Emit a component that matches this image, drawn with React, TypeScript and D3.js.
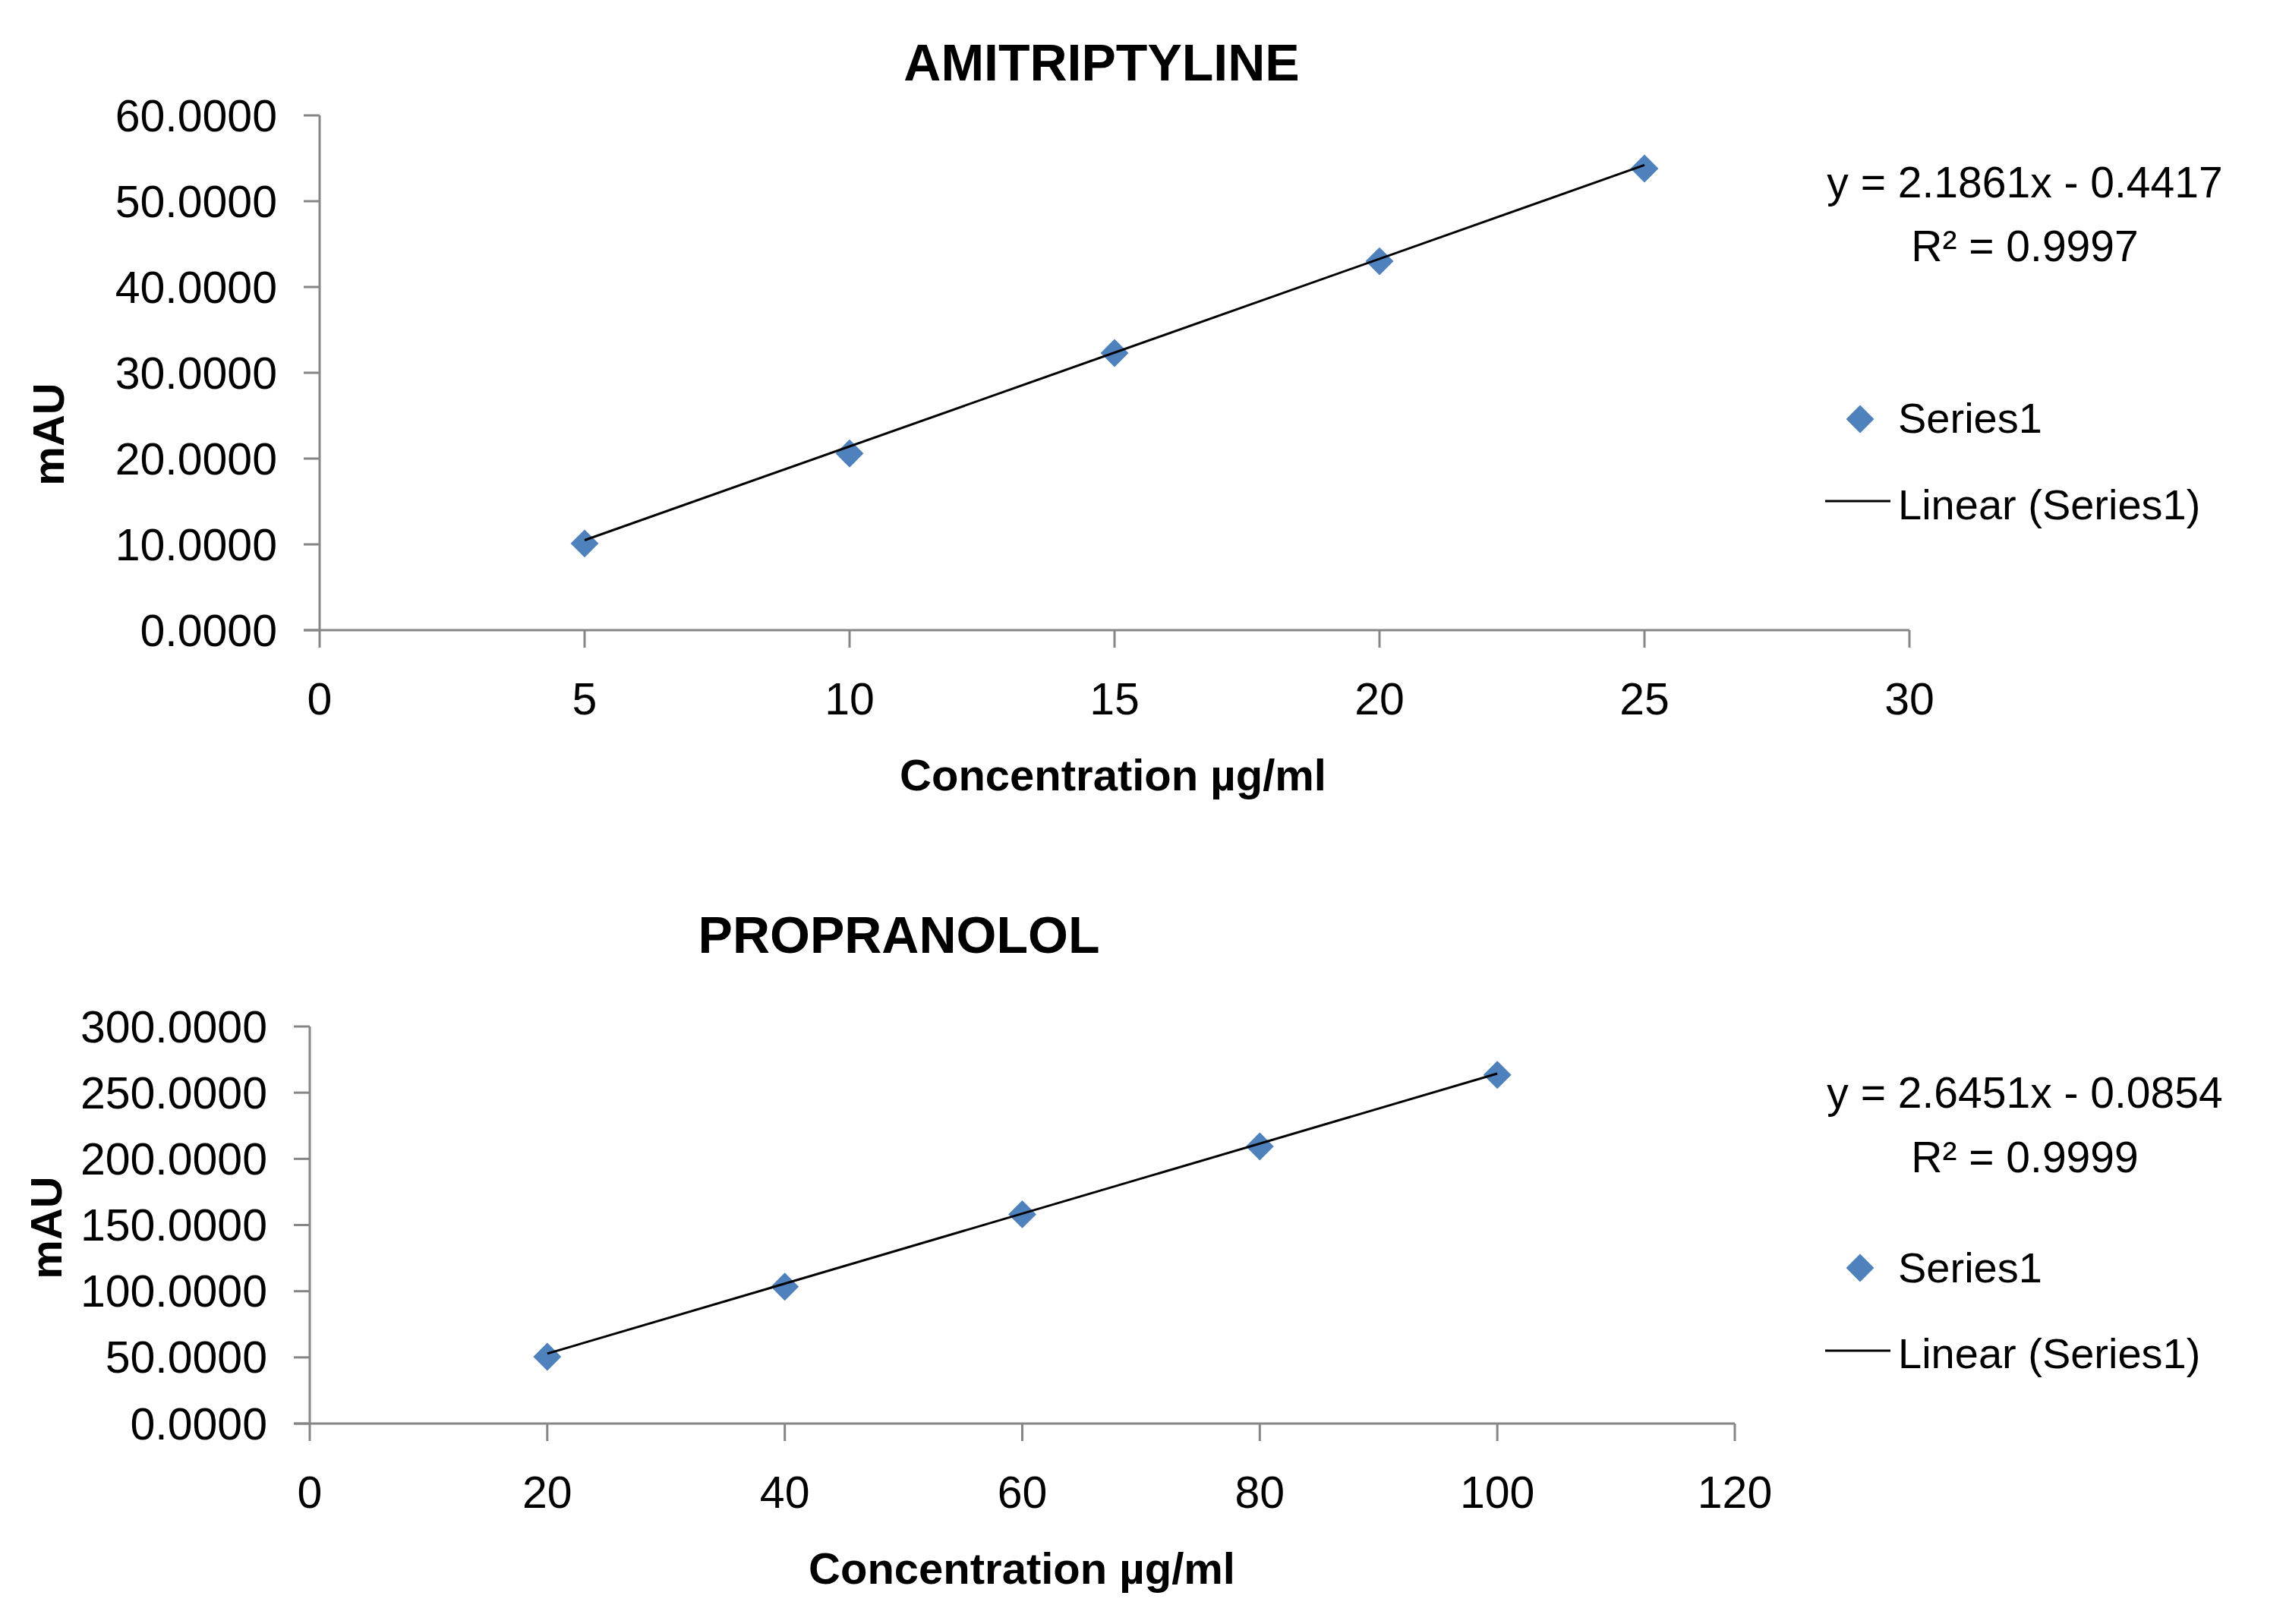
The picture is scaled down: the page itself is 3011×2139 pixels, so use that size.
import React from "react";
import * as d3 from "d3";

// ---------- DATA ----------
const amiConc = [5, 10, 15, 20, 25];
const amiArea = [10.1, 20.6, 32.3, 43.0, 53.8];
const amiXTicks = [0, 5, 10, 15, 20, 25, 30];
const amiYTicks = [0, 10, 20, 30, 40, 50, 60];
const amiSlope = 2.1861;
const amiIntercept = -0.4417;
const amiR2 = 0.9997;

const propConc = [20, 40, 60, 80, 100];
const propArea = [50.5, 103.4, 158.1, 209.4, 263.4];
const propXTicks = [0, 20, 40, 60, 80, 100, 120];
const propYTicks = [0, 50, 100, 150, 200, 250, 300];
const propSlope = 2.6451;
const propIntercept = -0.0854;
const propR2 = 0.9999;

const titles = ["AMITRIPTYLINE", "PROPRANOLOL"];
const xLabel = "Concentration µg/ml";
const yLabel = "mAU";
const seriesName = "Series1";
const trendName = "Linear (Series1)";

// ---------- LAYOUT ----------
const W = 3011;
const H = 2139;
const FONT = "'Liberation Sans', Arial, sans-serif";
const AXIS = "#868686";
const BLUE = "#4F81BD";

type Layout = {
  left: number; right: number; top: number; bottom: number;
  titleX: number; titleY: number;
  yLabX: number; yLabY: number;
  xLabX: number; xLabY: number;
  eqX: number; eqY: number; r2Y: number;
  legDiamondX: number; legDiamondY: number; legTextX: number; legSeriesY: number;
  legLineX1: number; legLineX2: number; legLineY: number; legLinearY: number;
};

const layoutTop: Layout = {
  left: 421, right: 2515, top: 152, bottom: 830,
  titleX: 1451, titleY: 106,
  yLabX: 84, yLabY: 572,
  xLabX: 1466, xLabY: 1041,
  eqX: 2667, eqY: 260, r2Y: 344,
  legDiamondX: 2450, legDiamondY: 552, legTextX: 2500, legSeriesY: 570,
  legLineX1: 2404, legLineX2: 2490, legLineY: 660, legLinearY: 684,
};

const layoutBottom: Layout = {
  left: 408, right: 2285, top: 1352, bottom: 1875,
  titleX: 1184, titleY: 1255,
  yLabX: 81, yLabY: 1617,
  xLabX: 1346, xLabY: 2086,
  eqX: 2667, eqY: 1459, r2Y: 1544,
  legDiamondX: 2450, legDiamondY: 1670, legTextX: 2500, legSeriesY: 1689,
  legLineX1: 2404, legLineX2: 2490, legLineY: 1779, legLinearY: 1802,
};

const diamondPath = d3.symbol().type(d3.symbolSquare).size(680)()!;

function fmtY(v: number) {
  return v.toFixed(4);
}
function fmtSigned(v: number) {
  return v < 0 ? `- ${Math.abs(v).toFixed(4)}` : `+ ${v.toFixed(4)}`;
}

type ChartProps = {
  L: Layout;
  title: string;
  xs: number[];
  ys: number[];
  xTicks: number[];
  yTicks: number[];
  slope: number;
  intercept: number;
  r2: number;
};

function Chart({ L, title, xs, ys, xTicks, yTicks, slope, intercept, r2 }: ChartProps) {
  const x = d3.scaleLinear().domain([xTicks[0], xTicks[xTicks.length - 1]]).range([L.left, L.right]);
  const y = d3.scaleLinear().domain([yTicks[0], yTicks[yTicks.length - 1]]).range([L.bottom, L.top]);
  const xMin = d3.min(xs)!;
  const xMax = d3.max(xs)!;
  const trend = d3.line<number>().x((d) => x(d)).y((d) => y(slope * d + intercept))([xMin, xMax])!;
  const pts = xs.map((v, i) => ({ cx: x(v), cy: y(ys[i]) }));

  return (
    <g fontFamily={FONT}>
      {/* title */}
      <text x={L.titleX} y={L.titleY} textAnchor="middle" fontSize={68} fontWeight="bold" fill="#000">
        {title}
      </text>
      {/* y axis */}
      <line x1={L.left} x2={L.left} y1={L.top} y2={L.bottom} stroke={AXIS} strokeWidth={3} />
      {yTicks.map((t) => (
        <g key={"y" + t}>
          <line x1={L.left - 21} x2={L.left} y1={y(t)} y2={y(t)} stroke={AXIS} strokeWidth={3} />
          <text x={L.left - 56} y={y(t)} dy="0.35em" textAnchor="end" fontSize={59} fill="#000">
            {fmtY(t)}
          </text>
        </g>
      ))}
      {/* x axis */}
      <line x1={L.left - 21} x2={L.right} y1={L.bottom} y2={L.bottom} stroke={AXIS} strokeWidth={3} />
      {xTicks.map((t) => (
        <g key={"x" + t}>
          <line x1={x(t)} x2={x(t)} y1={L.bottom} y2={L.bottom + 23} stroke={AXIS} strokeWidth={3} />
          <text x={x(t)} y={L.bottom + 111} textAnchor="middle" fontSize={59} fill="#000">
            {t}
          </text>
        </g>
      ))}
      {/* axis titles */}
      <text
        transform={`translate(${L.yLabX},${L.yLabY}) rotate(-90)`}
        textAnchor="middle"
        fontSize={58}
        fontWeight="bold"
        fill="#000"
      >
        {yLabel}
      </text>
      <text x={L.xLabX} y={L.xLabY} textAnchor="middle" fontSize={58} fontWeight="bold" fill="#000">
        {xLabel}
      </text>
      {/* points */}
      {pts.map((p, i) => (
        <path key={"p" + i} d={diamondPath} transform={`translate(${p.cx},${p.cy}) rotate(45)`} fill={BLUE} />
      ))}
      {/* trendline */}
      <path d={trend} fill="none" stroke="#000" strokeWidth={3} />
      {/* equation */}
      <text x={L.eqX} y={L.eqY} textAnchor="middle" fontSize={57} fill="#000">
        {`y = ${slope.toFixed(4)}x ${fmtSigned(intercept)}`}
      </text>
      <text x={L.eqX} y={L.r2Y} textAnchor="middle" fontSize={57} fill="#000">
        {`R² = ${r2.toFixed(4)}`}
      </text>
      {/* legend */}
      <path d={diamondPath} transform={`translate(${L.legDiamondX},${L.legDiamondY}) rotate(45)`} fill={BLUE} />
      <text x={L.legTextX} y={L.legSeriesY} fontSize={56} fill="#000">
        {seriesName}
      </text>
      <line x1={L.legLineX1} x2={L.legLineX2} y1={L.legLineY} y2={L.legLineY} stroke="#000" strokeWidth={3} />
      <text x={L.legTextX} y={L.legLinearY} fontSize={56} fill="#000">
        {trendName}
      </text>
    </g>
  );
}

export default function App() {
  return (
    <svg
      width={W}
      height={H}
      viewBox={`0 0 ${W} ${H}`}
      style={{ position: "absolute", left: 0, top: 0, background: "#fff" }}
    >
      <rect width={W} height={H} fill="#fff" />
      <Chart
        L={layoutTop}
        title={titles[0]}
        xs={amiConc}
        ys={amiArea}
        xTicks={amiXTicks}
        yTicks={amiYTicks}
        slope={amiSlope}
        intercept={amiIntercept}
        r2={amiR2}
      />
      <Chart
        L={layoutBottom}
        title={titles[1]}
        xs={propConc}
        ys={propArea}
        xTicks={propXTicks}
        yTicks={propYTicks}
        slope={propSlope}
        intercept={propIntercept}
        r2={propR2}
      />
    </svg>
  );
}
